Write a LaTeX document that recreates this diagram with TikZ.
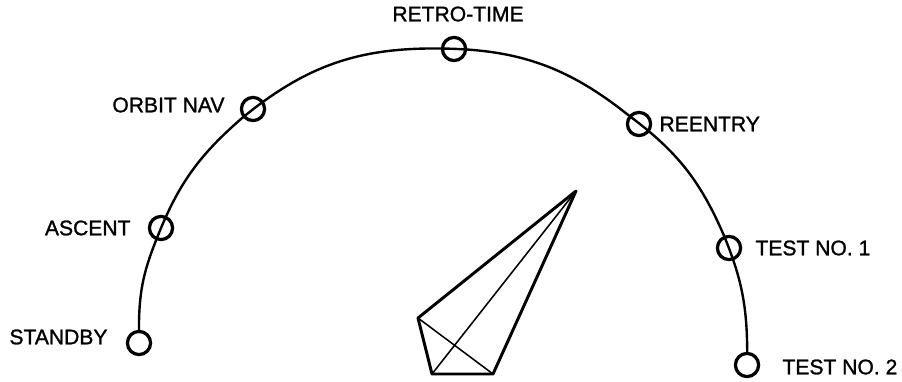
\documentclass[tikz,border=0pt]{standalone}
\usepackage{fontspec}
\setmainfont{Liberation Sans}
\newfontfamily\lblfont{Liberation Sans}[BoldFont=Liberation Sans, BoldFeatures={FakeBold=1.2}]
\usetikzlibrary{positioning}

\begin{document}
\begin{tikzpicture}[
    modering/.style={circle, draw, line width=2.3pt, minimum size=0.58cm, inner sep=0pt},
    modelabel/.style={inner sep=0pt, font=\lblfont\bfseries\fontsize{15}{18}\selectfont},
    dial/.style={line width=1.7pt},
    pointer/.style={line width=2.1pt, line join=round},
    hair/.style={line width=1.1pt}]
  \useasboundingbox (0,0) rectangle (22.55,9.525);
  % mode stops along the dial
  \node[modering] (standby) at (3.475,0.95) {};
  \node[modering] (ascent)  at (4.025,3.825) {};
  \node[modering] (orbit)   at (6.325,6.8) {};
  \node[modering] (retro)   at (11.35,8.3) {};
  \node[modering] (reentry) at (15.975,6.425) {};
  \node[modering] (testa)   at (18.225,3.325) {};
  \node[modering] (testb)   at (18.675,0.4) {};
  % labels
  \node[modelabel, left=0.45cm of standby, yshift=0.15cm] {STANDBY};
  \node[modelabel, left=0.425cm of ascent] {ASCENT};
  \node[modelabel, left=0.375cm of orbit, yshift=0.1cm] {ORBIT NAV};
  \node[modelabel, above=0.35cm of retro, xshift=0.1cm] {RETRO-TIME};
  \node[modelabel, right=0.175cm of reentry] {REENTRY};
  \node[modelabel, right=0.325cm of testa] {TEST NO. 1};
  \node[modelabel, right=0.55cm of testb, yshift=-0.05cm] {TEST NO. 2};
  % dial arc
  \draw[dial] (standby) to[bend left=11] (ascent) to[bend left=14] (orbit)
    to[bend left=20] (retro) to[bend left=19] (reentry)
    to[bend left=15] (testa) to[bend left=11] (testb);
  % pointer
  \coordinate (tip) at (14.4,4.75);
  \coordinate (lft) at (10.45,1.575);
  \coordinate (bl)  at (10.8,0.175);
  \coordinate (br)  at (12.325,0.175);
  \draw[pointer] (tip) -- (lft) -- (bl) -- (br) -- cycle;
  \draw[hair] (lft) -- (br) (tip) -- (bl);
\end{tikzpicture}
\end{document}
